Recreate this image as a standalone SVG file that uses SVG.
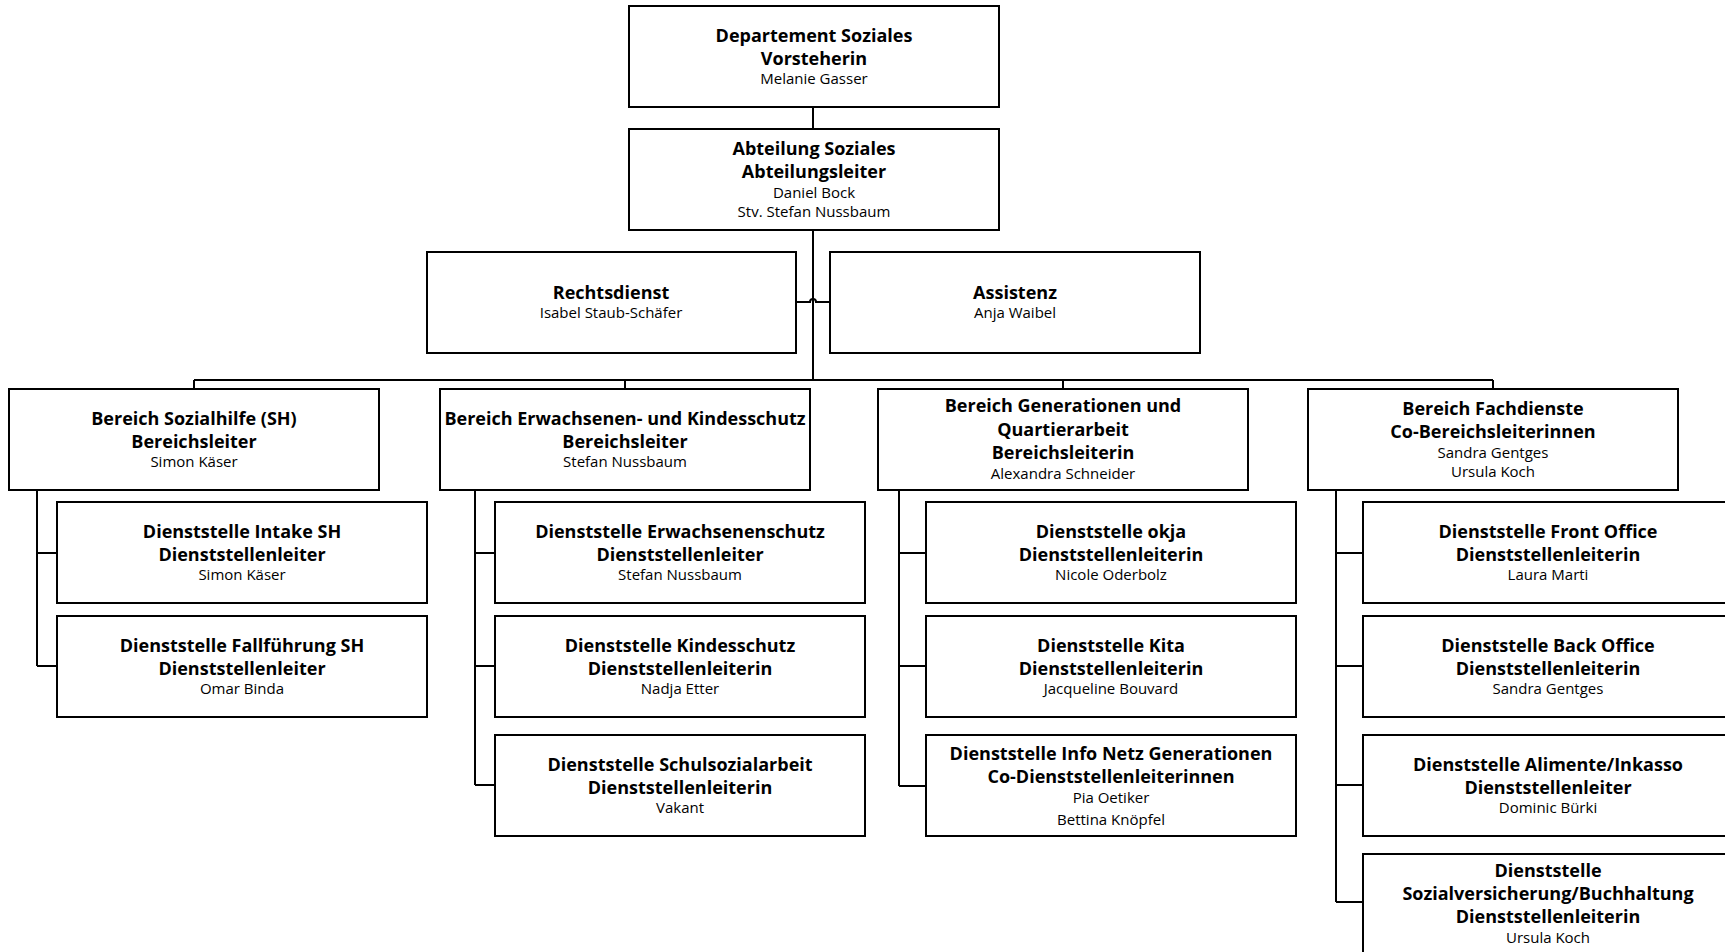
<svg xmlns="http://www.w3.org/2000/svg" width="1725" height="952" viewBox="0 0 1725 952">
<style>
.box{fill:#fff;stroke:#000;stroke-width:2}
.c{fill:none;stroke:#000;stroke-width:2}
text{font-family:"Open Sans","Noto Sans","DejaVu Sans",sans-serif;text-anchor:middle;fill:#000}
.b{font-weight:700;font-size:18px}
.n{font-size:15px}
</style>
<rect width="1725" height="952" fill="#fff"/>
<g id="connectors">
<path class="c" d="M813,108V129M813,231V380M194,380H1493M194,380V389M625,380V389M1063,380V389M1493,380V389"/>
<path class="c" d="M797,302H810a3,3 0 0 1 6,0H830"/>
<path class="c" d="M37,490V666M37,553H57M37,666H57"/>
<path class="c" d="M475,490V785M475,553H495M475,666H495M475,785H495"/>
<path class="c" d="M899,490V786M899,553H926M899,666H926M899,786H926"/>
<path class="c" d="M1336,490V902M1336,553H1363M1336,666H1363M1336,785H1363M1336,902H1363"/>
</g>
<g id="n-departement"><rect class="box" x="629" y="6" width="370" height="101"/>
<text x="814" y="42" class="b">Departement Soziales</text><text x="814" y="65" class="b">Vorsteherin</text><text x="814" y="84" class="n">Melanie Gasser</text></g>
<g id="n-abteilung"><rect class="box" x="629" y="129" width="370" height="101"/>
<text x="814" y="155" class="b">Abteilung Soziales</text><text x="814" y="178" class="b">Abteilungsleiter</text><text x="814" y="198" class="n">Daniel Bock</text><text x="814" y="217" class="n">Stv. Stefan Nussbaum</text></g>
<g id="n-rechtsdienst"><rect class="box" x="427" y="252" width="369" height="101"/>
<text x="611" y="299" class="b">Rechtsdienst</text><text x="611" y="318" class="n">Isabel Staub-Schäfer</text></g>
<g id="n-assistenz"><rect class="box" x="830" y="252" width="370" height="101"/>
<text x="1015" y="299" class="b">Assistenz</text><text x="1015" y="318" class="n">Anja Waibel</text></g>
<g id="n-sh"><rect class="box" x="9" y="389" width="370" height="101"/>
<text x="194" y="425" class="b">Bereich Sozialhilfe (SH)</text><text x="194" y="448" class="b">Bereichsleiter</text><text x="194" y="467" class="n">Simon Käser</text></g>
<g id="n-erw"><rect class="box" x="440" y="389" width="370" height="101"/>
<text x="625" y="425" class="b">Bereich Erwachsenen- und Kindesschutz</text><text x="625" y="448" class="b">Bereichsleiter</text><text x="625" y="467" class="n">Stefan Nussbaum</text></g>
<g id="n-gen"><rect class="box" x="878" y="389" width="370" height="101"/>
<text x="1063" y="412" class="b">Bereich Generationen und</text><text x="1063" y="436" class="b">Quartierarbeit</text><text x="1063" y="459" class="b">Bereichsleiterin</text><text x="1063" y="479" class="n">Alexandra Schneider</text></g>
<g id="n-fach"><rect class="box" x="1308" y="389" width="370" height="101"/>
<text x="1493" y="415" class="b">Bereich Fachdienste</text><text x="1493" y="438" class="b">Co-Bereichsleiterinnen</text><text x="1493" y="458" class="n">Sandra Gentges</text><text x="1493" y="477" class="n">Ursula Koch</text></g>
<g id="n-intake"><rect class="box" x="57" y="502" width="370" height="101"/>
<text x="242" y="538" class="b">Dienststelle Intake SH</text><text x="242" y="561" class="b">Dienststellenleiter</text><text x="242" y="580" class="n">Simon Käser</text></g>
<g id="n-fallfuehrung"><rect class="box" x="57" y="616" width="370" height="101"/>
<text x="242" y="652" class="b">Dienststelle Fallführung SH</text><text x="242" y="675" class="b">Dienststellenleiter</text><text x="242" y="694" class="n">Omar Binda</text></g>
<g id="n-erwachsenenschutz"><rect class="box" x="495" y="502" width="370" height="101"/>
<text x="680" y="538" class="b">Dienststelle Erwachsenenschutz</text><text x="680" y="561" class="b">Dienststellenleiter</text><text x="680" y="580" class="n">Stefan Nussbaum</text></g>
<g id="n-kindesschutz"><rect class="box" x="495" y="616" width="370" height="101"/>
<text x="680" y="652" class="b">Dienststelle Kindesschutz</text><text x="680" y="675" class="b">Dienststellenleiterin</text><text x="680" y="694" class="n">Nadja Etter</text></g>
<g id="n-schulsozialarbeit"><rect class="box" x="495" y="735" width="370" height="101"/>
<text x="680" y="771" class="b">Dienststelle Schulsozialarbeit</text><text x="680" y="794" class="b">Dienststellenleiterin</text><text x="680" y="813" class="n">Vakant</text></g>
<g id="n-okja"><rect class="box" x="926" y="502" width="370" height="101"/>
<text x="1111" y="538" class="b">Dienststelle okja</text><text x="1111" y="561" class="b">Dienststellenleiterin</text><text x="1111" y="580" class="n">Nicole Oderbolz</text></g>
<g id="n-kita"><rect class="box" x="926" y="616" width="370" height="101"/>
<text x="1111" y="652" class="b">Dienststelle Kita</text><text x="1111" y="675" class="b">Dienststellenleiterin</text><text x="1111" y="694" class="n">Jacqueline Bouvard</text></g>
<g id="n-infonetz"><rect class="box" x="926" y="735" width="370" height="101"/>
<text x="1111" y="760" class="b">Dienststelle Info Netz Generationen</text><text x="1111" y="783" class="b">Co-Dienststellenleiterinnen</text><text x="1111" y="803" class="n">Pia Oetiker</text><text x="1111" y="825" class="n">Bettina Knöpfel</text></g>
<g id="n-frontoffice"><rect class="box" x="1363" y="502" width="370" height="101"/>
<text x="1548" y="538" class="b">Dienststelle Front Office</text><text x="1548" y="561" class="b">Dienststellenleiterin</text><text x="1548" y="580" class="n">Laura Marti</text></g>
<g id="n-backoffice"><rect class="box" x="1363" y="616" width="370" height="101"/>
<text x="1548" y="652" class="b">Dienststelle Back Office</text><text x="1548" y="675" class="b">Dienststellenleiterin</text><text x="1548" y="694" class="n">Sandra Gentges</text></g>
<g id="n-alimente"><rect class="box" x="1363" y="735" width="370" height="101"/>
<text x="1548" y="771" class="b">Dienststelle Alimente/Inkasso</text><text x="1548" y="794" class="b">Dienststellenleiter</text><text x="1548" y="813" class="n">Dominic Bürki</text></g>
<g id="n-sozialversicherung"><rect class="box" x="1363" y="854" width="370" height="110"/>
<text x="1548" y="877" class="b">Dienststelle</text><text x="1548" y="900" class="b">Sozialversicherung/Buchhaltung</text><text x="1548" y="923" class="b">Dienststellenleiterin</text><text x="1548" y="943" class="n">Ursula Koch</text></g>
</svg>
